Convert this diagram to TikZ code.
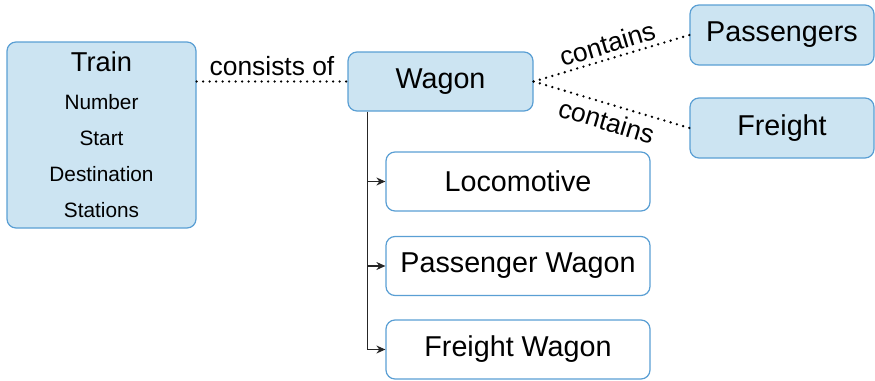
\documentclass[tikz,border=0pt]{standalone}
\usepackage{fontspec}
\setmainfont{Liberation Sans}
\usetikzlibrary{arrows.meta}
\definecolor{boxfill}{HTML}{CCE4F2}
\definecolor{boxline}{HTML}{5A9FD4}
\begin{document}
\begin{tikzpicture}[x=1pt,y=-1pt,
  entity/.style={draw=boxline, line width=1.2pt, fill=boxfill, rounded corners=9pt, inner sep=0pt},
  big/.style={font=\fontsize{28.7}{32}\selectfont},
  small/.style={font=\fontsize{20.8}{24}\selectfont, inner sep=0pt},
  sub/.style={draw=boxline, line width=1.2pt, fill=white, rounded corners=9pt, inner sep=0pt,
    minimum width=264pt, minimum height=59pt, big},
  rel/.style={line width=2.6pt, line cap=round, dash pattern=on 0pt off 6.5pt},
  lbl/.style={font=\fontsize{26.4}{30}\selectfont, inner sep=2pt},
  tree/.style={line width=1.2pt, draw=black!85, -{Stealth[length=9pt,width=8pt]}}
]
\useasboundingbox (0,0) rectangle (875,380);

\node[entity, minimum width=189pt, minimum height=186pt] (train) at (101.5,135) {};
\node[font=\fontsize{27.3}{30}\selectfont, inner sep=0pt] (ttl) at (101.5,62) {Train};
\node[small] (a1) at (101.5,102) {Number};
\node[small] (a2) at (101.5,138) {Start};
\node[small] (a3) at (101.5,174) {Destination};
\node[small] (a4) at (101.5,210) {Stations};

\node[entity, minimum width=185pt, minimum height=59pt, big] (wagon) at (440.5,81.5) {Wagon};
\node[entity, minimum width=184pt, minimum height=60pt, big] (pass) at (782,35) {Passengers};
\node[entity, minimum width=184pt, minimum height=60pt, big] (freight) at (782,128) {Freight};

\node[sub] (loco) at (518,181.5) {Locomotive};
\node[sub] (pw) at (518,266) {Passenger Wagon};
\node[sub] (fw) at (518,349.5) {Freight Wagon};

\draw[rel] (train.east |- wagon.west) -- node[lbl, above=2pt] {consists of} (wagon.west);
\draw[rel] (wagon.east) -- node[lbl, midway, above=2pt, sloped] {contains} (pass.west);
\draw[rel] (wagon.east) -- node[lbl, midway, below=4pt, sloped] {contains} (freight.west);

\coordinate (t0) at ([xshift=20pt]wagon.south west);
\draw[line width=1.2pt, draw=black!85] (t0) -- (t0 |- fw.west);
\draw[tree] (t0 |- loco.west) -- (loco.west);
\draw[tree] (t0 |- pw.west) -- (pw.west);
\draw[tree] (t0 |- fw.west) -- (fw.west);
\end{tikzpicture}
\end{document}
